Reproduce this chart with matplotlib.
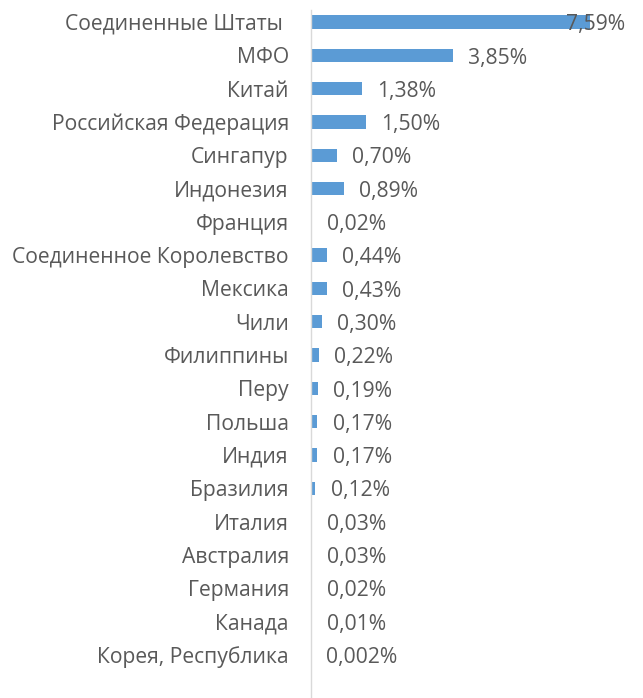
import numpy as np
import matplotlib.pyplot as plt

plt.rcParams["font.family"] = ["Open Sans", "DejaVu Sans"]

countries = [
    "Соединенные Штаты ",
    "МФО",
    "Китай",
    "Российская Федерация",
    "Сингапур",
    "Индонезия",
    "Франция",
    "Соединенное Королевство",
    "Мексика",
    "Чили",
    "Филиппины",
    "Перу",
    "Польша",
    "Индия",
    "Бразилия",
    "Италия",
    "Австралия",
    "Германия",
    "Канада",
    "Корея, Республика",
]
shares = [7.59, 3.85, 1.38, 1.50, 0.70, 0.89, 0.02, 0.44, 0.43, 0.30,
          0.22, 0.19, 0.17, 0.17, 0.12, 0.03, 0.03, 0.02, 0.01, 0.002]
labels = ["7,59%", "3,85%", "1,38%", "1,50%", "0,70%", "0,89%", "0,02%",
          "0,44%", "0,43%", "0,30%", "0,22%", "0,19%", "0,17%", "0,17%",
          "0,12%", "0,03%", "0,03%", "0,02%", "0,01%", "0,002%"]

text_col = "#595959"
bar_col = "#5B9BD5"
fs = 15.2

fig = plt.figure(figsize=(6.43, 6.98), dpi=100)
ax = fig.add_axes([311 / 643, 0.0, (625 - 311) / 643, 1 - 10 / 698])

y = np.arange(len(countries))
ax.barh(y, shares, height=0.4, color=bar_col)

xmax = (625 - 311) / 36.8
ax.set_xlim(0, xmax)
ax.set_ylim(20.3, -0.36)

# value labels; the longest one is pulled back inside the plot area
for yi, v, lab in zip(y, shares, labels):
    if v > 0.85 * xmax:
        ax.annotate(lab, (1.0, yi), xycoords=("axes fraction", "data"),
                    xytext=(0, -2), textcoords="offset points",
                    ha="right", va="center", fontsize=fs, color=text_col)
    else:
        ax.annotate(lab, (v, yi), xytext=(11, -2), textcoords="offset points",
                    ha="left", va="center", fontsize=fs, color=text_col)

ax.set_yticks(y)
ax.set_yticklabels(countries, fontsize=fs, color=text_col, va="center_baseline")
ax.tick_params(axis="y", length=0, pad=16)
ax.set_xticks([])

for s in ["top", "right", "bottom"]:
    ax.spines[s].set_visible(False)
ax.spines["left"].set_color("#D9D9D9")
ax.spines["left"].set_linewidth(1.0)

fig.savefig("out.png", dpi=100)
